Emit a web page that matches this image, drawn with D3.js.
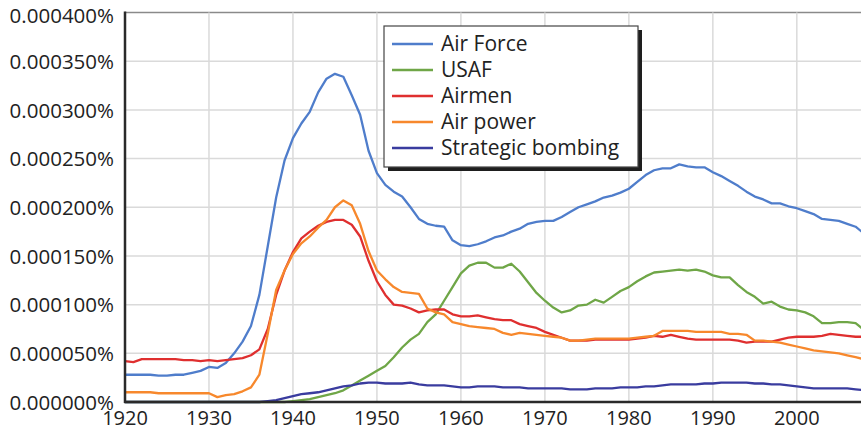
<!DOCTYPE html>
<html>
<head>
<meta charset="utf-8">
<script src="https://d3js.org/d3.v7.min.js"></script>
<style>
  body { margin: 0; background: #fff; }
  text { font-family: "Open Sans", "Noto Sans", sans-serif; fill: #222; }
</style>
</head>
<body>
<div id="chart"></div>
<script>
// values are in millionths of a percent (0.000001%)
var startYear = 1920;
var airForce = [28,28,28,28,27,27,28,28,30,32, 36,35,40,50,62,78,110,160,210,248,
  271,286,298,318,332,337,334,315,295,258, 235,223,216,211,200,188,183,181,180,166,
  161,160,162,165,169,171,175,178,183,185, 186,186,190,195,200,203,206,210,212,215,
  219,226,233,238,240,240,244,242,241,241, 236,232,227,222,216,211,208,204,204,201,
  199,196,193,188,187,186,183,180,173];
var usaf = [0,0,0,0,0,0,0,0,0,0, 0,0,0,0,0,0,0,0,0,0,
  1,2,3,5,7,9,12,17,22,27, 32,37,46,56,64,70,82,90,104,118,
  132,140,143,143,138,138,142,134,123,112, 104,97,92,94,99,100,105,102,108,114,
  118,124,129,133,134,135,136,135,136,134, 130,128,128,120,113,108,101,103,98,95,
  94,92,88,81,81,82,82,81,74];
var airmen = [42,41,44,44,44,44,44,43,43,42, 43,42,43,44,45,48,54,75,110,135,
  154,168,175,181,185,187,187,182,170,145, 124,110,100,99,96,92,94,95,95,90,
  88,88,89,87,85,84,84,80,78,76, 72,69,66,63,63,63,64,64,64,64,
  64,65,66,68,67,69,67,65,64,64, 64,64,64,63,61,62,62,62,64,66,
  67,67,67,68,70,69,68,67,67];
var airPower = [10,10,10,10,9,9,9,9,9,9, 9,5,7,8,11,15,28,70,115,135,
  152,163,170,179,187,200,207,202,183,155, 135,126,118,113,112,111,96,92,90,82,
  80,78,77,76,75,71,69,71,70,69, 68,67,66,63,63,64,65,65,65,65,
  65,66,67,68,73,73,73,73,72,72, 72,72,70,70,69,63,63,62,61,59,
  57,55,53,52,51,50,48,46,44];
var strategic = [0,0,0,0,0,0,0,0,0,0, 0,0,0,0,0,0,0,1,2,4,
  6,8,9,10,12,14,16,17,19,20, 20,19,19,19,20,18,17,17,17,16,
  15,15,16,16,16,15,15,15,14,14, 14,14,14,13,13,13,14,14,14,15,
  15,15,16,16,17,18,18,18,18,19, 19,20,20,20,20,19,19,18,18,17,
  16,15,14,14,14,14,14,13,12];

var seriesNames = ["Air Force", "USAF", "Airmen", "Air power", "Strategic bombing"];
var seriesValues = [airForce, usaf, airmen, airPower, strategic];
var seriesColors = ["#4f7dcb", "#6fa647", "#df2f2f", "#f7882c", "#3a3c9f"];
var yTicks = [0, 50, 100, 150, 200, 250, 300, 350, 400];
var xTicks = [1920, 1930, 1940, 1950, 1960, 1970, 1980, 1990, 2000];

var W = 861, H = 433;
var plotLeft = 125, plotTop = 12.5, plotBottom = 402;

var svg = d3.select("#chart").append("svg")
  .attr("width", W).attr("height", H);

var x = d3.scaleLinear().domain([1920, 2008]).range([plotLeft, 864]);
var y = d3.scaleLinear().domain([0, 400]).range([plotBottom, plotTop]);

// grid
svg.append("g").selectAll("line").data(yTicks.slice(1)).enter().append("line")
  .attr("x1", plotLeft).attr("x2", W)
  .attr("y1", d => y(d)).attr("y2", d => y(d))
  .attr("stroke", d => d === 400 ? "#8a8a8a" : "#dadada")
  .attr("stroke-width", 1.5);
svg.append("g").selectAll("line").data(xTicks.slice(1)).enter().append("line")
  .attr("x1", d => x(d)).attr("x2", d => x(d))
  .attr("y1", plotTop).attr("y2", plotBottom)
  .attr("stroke", "#dadada").attr("stroke-width", 1.5);

// y labels
var fmt = d3.format(".6f");
svg.append("g").selectAll("text").data(yTicks).enter().append("text")
  .attr("x", 114).attr("y", d => Math.max(y(d) + 0.5, 16))
  .attr("dy", "0.35em")
  .attr("text-anchor", "end")
  .style("font-size", "20.5px")
  .text(d => fmt(d / 1e6) + "%");

// x labels
svg.append("g").selectAll("text").data(xTicks).enter().append("text")
  .attr("x", d => x(d)).attr("y", 425)
  .attr("text-anchor", "middle")
  .style("font-size", "20px")
  .text(d => d);

// lines
var line = d3.line()
  .x((d, i) => x(startYear + i))
  .y(d => y(d));

svg.append("g").selectAll("path").data(seriesValues).enter().append("path")
  .attr("d", d => line(d))
  .attr("fill", "none")
  .attr("stroke", (d, i) => seriesColors[i])
  .attr("stroke-width", 2.3)
  .attr("stroke-linejoin", "round");

// axes
svg.append("line").attr("x1", plotLeft).attr("x2", plotLeft).attr("y1", plotTop - 1).attr("y2", plotBottom + 1)
  .attr("stroke", "#2a2a2a").attr("stroke-width", 2.5);
svg.append("line").attr("x1", plotLeft - 1).attr("x2", W).attr("y1", plotBottom).attr("y2", plotBottom)
  .attr("stroke", "#2a2a2a").attr("stroke-width", 2.5);

// legend
var lg = svg.append("g").attr("transform", "translate(384,26)");
lg.append("rect").attr("x", 4).attr("y", 4).attr("width", 254).attr("height", 141)
  .attr("fill", "#1e1e1e");
lg.append("rect").attr("x", 0).attr("y", 0).attr("width", 254).attr("height", 141)
  .attr("fill", "#fff").attr("stroke", "#444").attr("stroke-width", 1.2);
var items = lg.selectAll("g.item").data(seriesNames).enter().append("g")
  .attr("class", "item")
  .attr("transform", (d, i) => "translate(0," + (18 + i * 26) + ")");
items.append("line").attr("x1", 8).attr("x2", 49).attr("y1", 0).attr("y2", 0)
  .attr("stroke", (d, i) => seriesColors[i]).attr("stroke-width", 2.5);
items.append("text").attr("x", 57).attr("y", 0).attr("dy", "0.35em")
  .style("font-size", "21px")
  .text(d => d);
</script>
</body>
</html>
